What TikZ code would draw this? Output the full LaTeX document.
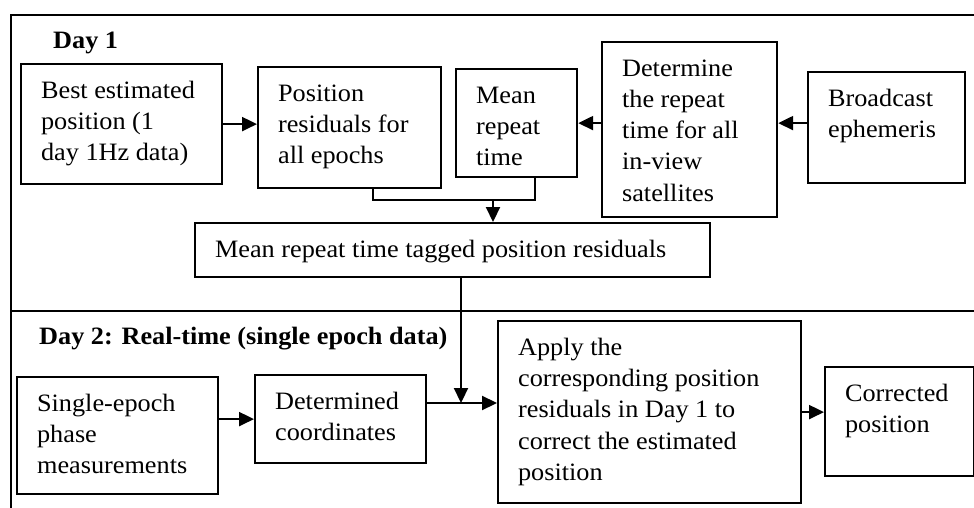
\documentclass[tikz,border=0pt]{standalone}
\usepackage{fontspec}
\setmainfont{Liberation Serif}[FakeStretch=1.05]
\usetikzlibrary{arrows.meta}
\newcommand\bxt[3]{\parbox[t][#2][t]{#1}{\fontsize{25}{31.3}\selectfont\raggedright\leftskip=20pt\rightskip=-60pt plus 1fil\rule{0pt}{34pt}#3}}
\begin{document}
\begin{tikzpicture}[x=1pt,y=-1pt,
  box/.style={draw,line width=2.2pt,inner sep=0pt,anchor=north west},
  lbl/.style={inner sep=0pt,anchor=base west,font=\bfseries\fontsize{25}{30}\selectfont},
  conn/.style={line width=2.2pt},
  arr/.style={conn,-{Triangle[length=15pt,width=14pt]}}]
\useasboundingbox (0,0) rectangle (974,508);
% frame
\coordinate (ftr) at (974,15);
\coordinate (ftl) at (11,15);
\coordinate (fbl) at (11,508);
\coordinate (fml) at (11,311);
\coordinate (fmr) at (974,311);
\draw[conn] (ftr) -- (ftl) -- (fbl);
\draw[conn] (fml) -- (fmr);
% labels
\node[lbl] (day1) at (53,49) {Day 1};
\node[lbl] (day2) at (39,344) {Day 2: Real-time (single epoch data)};
% Day 1 boxes
\node[box] (b1) at (20,63) {\bxt{201pt}{120pt}{Best estimated\\position (1\\day 1Hz data)}};
\node[box] (b2) at (257,66) {\bxt{183pt}{121pt}{Position\\residuals for\\all epochs}};
\node[box] (b3) at (455,68) {\bxt{121pt}{108pt}{Mean\\repeat\\time}};
\node[box] (b4) at (601,41) {\bxt{175pt}{175pt}{Determine\\the repeat\\time for all\\in-view\\satellites}};
\node[box] (b5) at (807,71) {\bxt{157pt}{111pt}{Broadcast\\ephemeris}};
\node[box] (b6) at (194,222) {\bxt{515pt}{54pt}{Mean repeat time tagged position residuals}};
% Day 2 boxes
\node[box] (b7) at (16,376) {\bxt{201pt}{117pt}{Single-epoch\\phase\\measurements}};
\node[box] (b8) at (254,374) {\bxt{171pt}{88pt}{Determined\\coordinates}};
\node[box] (b9) at (497,320) {\bxt{303pt}{182pt}{Apply the\\corresponding position\\residuals in Day 1 to\\correct the estimated\\position}};
\node[box] (b10) at (824,366) {\bxt{149pt}{109pt}{Corrected\\position}};
% connectors Day 1
\draw[arr] (b1.east) -- (b1.east -| b2.west);
\draw[arr] (b3.east -| b4.west) -- (b3.east);
\draw[arr] (b3.east -| b5.west) -- (b3.east -| b4.east);
\coordinate (p2) at (373,200);
\coordinate (p3) at (535,200);
\coordinate (j) at (493,200);
\draw[conn] (b2.south -| p2) -- (p2) -- (p3) -- (b3.south -| p3);
\draw[arr] (j) -- (b6.north -| j);
% connectors Day 2
\coordinate (m) at (461,403);
\draw[arr] (b6.south -| m) -- (m);
\draw[arr] (b8.west -| b7.east) -- (b8.west);
\draw[arr] (b8.east |- m) -- (b9.west |- m);
\draw[arr] (b9.east) -- (b9.east -| b10.west);
\end{tikzpicture}
\end{document}
